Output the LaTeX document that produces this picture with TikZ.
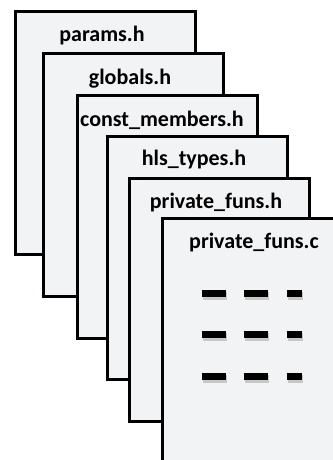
\documentclass[tikz,border=0pt]{standalone}
\usepackage{fontspec}
\setmainfont{Carlito}
\definecolor{pagefill}{RGB}{242,243,245}

\begin{document}
\begin{tikzpicture}[x=0.5pt, y=-0.5pt,
    page/.style={draw=black, line width=1.5pt, fill=pagefill, anchor=north west,
                 minimum width=90pt, minimum height=121.5pt, inner sep=0pt},
    fname/.style={anchor=center, font=\fontsize{11}{13}\selectfont\bfseries},
    bar/.style={line width=3.5pt, black},
    barshadow/.style={line width=4pt, black!22}]
    \useasboundingbox (0,0) rectangle (332,460);
    % stacked header/source pages
    \node[page] (params) at (14,10) {};
    \node[fname] (paramsname) at (102,36) {params.h};
    \node[page] (globals) at (42,52) {};
    \node[fname] (globalsname) at (130,79) {globals.h};
    \node[page] (constm) at (76,94) {};
    \node[fname] (constmname) at (162,120) {const\_members.h};
    \node[page] (hlstypes) at (106,135) {};
    \node[fname] (hlstypesname) at (194,160) {hls\_types.h};
    \node[page] (privh) at (128,177) {};
    \node[fname] (privhname) at (216,203) {private\_funs.h};
    \node[page] (privc) at (161,217) {};
    \node[fname] (privcname) at (254,243) {private\_funs.c};
    % code lines
    \draw[barshadow] (203,295.5) -- (227,295.5) (245,295.5) -- (269,295.5) (288,295.5) -- (303,295.5);
    \draw[barshadow] (203,336.5) -- (227,336.5) (245,336.5) -- (269,336.5) (288,336.5) -- (303,336.5);
    \draw[barshadow] (203,378.5) -- (227,378.5) (245,378.5) -- (269,378.5) (288,378.5) -- (303,378.5);
    \draw[bar] (202,293) -- (226,293) (244,293) -- (268,293) (287,293) -- (302,293);
    \draw[bar] (202,334) -- (226,334) (244,334) -- (268,334) (287,334) -- (302,334);
    \draw[bar] (202,376) -- (226,376) (244,376) -- (268,376) (287,376) -- (302,376);
\end{tikzpicture}
\end{document}
